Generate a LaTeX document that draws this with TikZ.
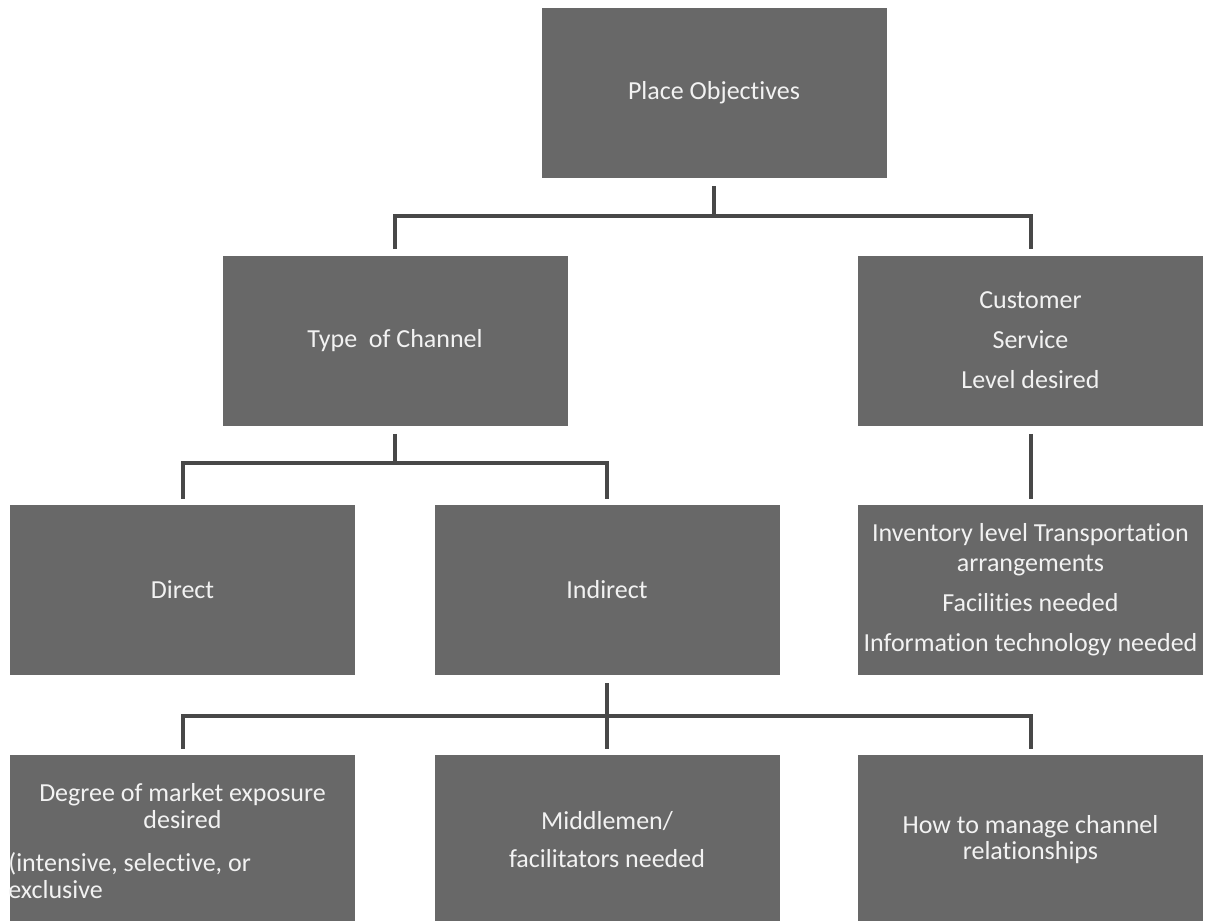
\documentclass[tikz,border=0pt]{standalone}
\usepackage{fontspec}
\setmainfont[RawFeature={-liga;-clig;-calt;-dlig}]{Carlito}
\definecolor{boxgray}{RGB}{104,104,104}
\definecolor{linegray}{RGB}{72,72,72}
\definecolor{txt}{RGB}{242,242,242}
\begin{document}
\begin{tikzpicture}[x=0.5pt,y=-0.5pt,
  box/.style={fill=boxgray, draw=none, minimum width=172.5pt, minimum height=85pt,
    text=txt, font=\fontsize{13}{15}\selectfont, align=center, inner sep=0pt},
  lbl/.style={text=txt, font=\fontsize{13}{13.5}\selectfont, inner sep=0pt},
  conn/.style={draw=linegray, line width=2pt}]
\useasboundingbox (0,0) rectangle (1206,921);
\clip (0,0) rectangle (1206,921);
\fill[white] (0,0) rectangle (1206,921);
% boxes
\node[box] (po) at (714,93) {Place Objectives};
\node[box] (toc) at (395,340.5) {Type\ \ of Channel};
\node[box] (cs) at (1030.5,340.5) {Customer\\[5pt]Service\\[5pt]Level desired};
\node[box] (dir) at (182.5,590) {Direct};
\node[box] (ind) at (607,590) {Indirect};
\node[box] (inv) at (1030.5,590) {Inventory level Transportation\\arrangements\\[5pt]Facilities needed\\[5pt]Information technology needed};
\node[box] (deg) at (182.5,840) {};
\node[lbl, align=center] (degA) at (182.5,806) {Degree of market exposure\\desired};
\node[lbl, align=left, anchor=west] (degB) at (8,876) {(intensive, selective, or\\exclusive};
\node[box] (mid) at (607,840) {Middlemen/\\[4pt]facilitators needed};
\node[box, font=\fontsize{13}{13}\selectfont] (how) at (1030.5,840) {How to manage channel\\relationships};
% junctions
\coordinate (j1) at (714,216);
\coordinate (j2) at (395,463);
\coordinate (j3) at (607,716);
% connectors
\draw[conn] ([yshift=-4pt]po.south) -- (j1);
\draw[conn] ([yshift=3pt]toc.north) |- (j1) -| ([yshift=3pt]cs.north);
\draw[conn] ([yshift=-4pt]toc.south) -- (j2);
\draw[conn] ([yshift=3pt]dir.north) |- (j2) -| ([yshift=3pt]ind.north);
\draw[conn] ([yshift=-4pt]cs.south) -- ([yshift=3pt]inv.north);
\draw[conn] ([yshift=-4pt]ind.south) -- (j3);
\draw[conn] ([yshift=3pt]deg.north) |- (j3) -| ([yshift=3pt]how.north);
\draw[conn] (j3) -- ([yshift=3pt]mid.north);
\end{tikzpicture}
\end{document}
